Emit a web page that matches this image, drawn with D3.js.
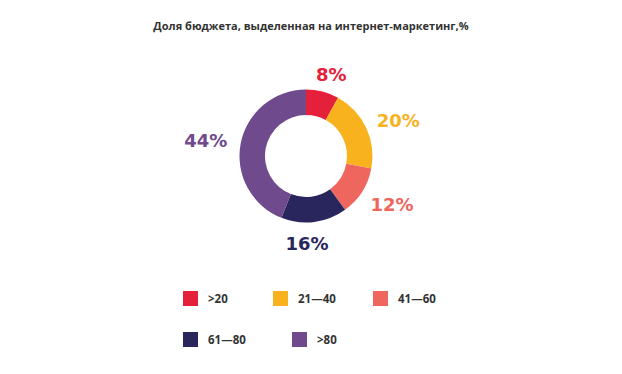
<!DOCTYPE html>
<html>
<head>
<meta charset="utf-8">
<script src="https://cdn.jsdelivr.net/npm/d3@7"></script>
<style>
  body { margin: 0; background: #fff; }
  svg text { font-family: "Open Sans", sans-serif; }
  svg text.pct { font-family: "DejaVu Sans", sans-serif; }
</style>
</head>
<body>
<div id="chart"></div>
<script>
"use strict";

var title = "Доля бюджета, выделенная на интернет-маркетинг,%";
var categories = [">20", "21\u201440", "41\u201460", "61\u201480", ">80"];
var shares = [8, 20, 12, 16, 44];
var colors = ["#e4203b", "#f8b21e", "#ee665e", "#29265d", "#6f4a8d"];

function drawChart(){
    var svg = d3.select("#chart").append("svg").attr("width", 622).attr("height", 374);

    svg.append("text").attr("x", 311).attr("y", 30)
        .attr("text-anchor", "middle").attr("font-size", 11).attr("font-weight", 700)
        .attr("fill", "#333").text(title);

    var cx = 306, cy = 156;
    var g = svg.append("g").attr("transform", "translate(" + cx + "," + cy + ")");

    var pie = d3.pie().sort(null).value(function(d){ return d; });
    var arcs = pie(shares);
    var arc = d3.arc().innerRadius(41).outerRadius(66.5);

    g.selectAll("path").data(arcs).enter().append("path")
        .attr("d", arc).attr("fill", function(d, i){ return colors[i]; });

    // labels outside the ring; near-vertical ones are centred under/over the ring
    g.selectAll("text.pct").data(arcs).enter().append("text")
        .attr("class", "pct")
        .attr("x", function(d){
            var s = Math.sin((d.startAngle + d.endAngle) / 2);
            return Math.abs(s) < 0.2 ? 1 : s * 102;
        })
        .attr("y", function(d){ var a = (d.startAngle + d.endAngle) / 2; return -Math.cos(a) * 84 + (Math.cos(a) < 0 ? 4 : 0); })
        .attr("dy", "0.36em")
        .attr("text-anchor", "middle")
        .attr("font-size", 18).attr("font-weight", 700)
        .attr("fill", function(d, i){ return colors[i]; })
        .text(function(d){ return d.data + "%"; });

    // legend: two rows, columns not evenly spaced
    var legendX = [[183, 273, 373], [183, 292]];
    var legendY = [291, 332];
    var legend = svg.append("g");
    categories.forEach(function(c, i){
        var row = i < 3 ? 0 : 1;
        var col = i < 3 ? i : i - 3;
        var x = legendX[row][col], y = legendY[row];
        legend.append("rect").attr("x", x).attr("y", y).attr("width", 15).attr("height", 15)
            .attr("fill", colors[i]);
        legend.append("text").attr("x", x + 25).attr("y", y + 7.5).attr("dy", "0.35em")
            .attr("font-size", 11.5).attr("font-weight", 700).attr("fill", "#333").text(c);
    });
}

drawChart();
</script>
</body>
</html>
